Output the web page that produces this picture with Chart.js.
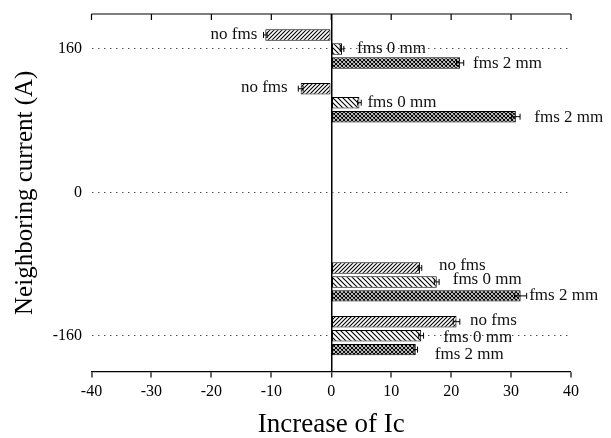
<!DOCTYPE html>
<html>
<head>
<meta charset="utf-8">
<script src="https://cdn.jsdelivr.net/npm/chart.js@4.4.0/dist/chart.umd.min.js"></script>
<style>
html,body{margin:0;padding:0;background:#fff}
canvas{display:block}
</style>
</head>
<body>
<canvas id="c" width="611" height="438"></canvas>
<script>
// ---- data ----
const groups = [160, 100, -100, -160];            // neighboring current (A)
const seriesNames = ['no fms', 'fms 0 mm', 'fms 2 mm'];
const noFms  = [-11.0, -5.1, 14.8, 20.9];         // increase of Ic
const fms0mm = [1.8, 4.7, 17.6, 15.0];
const fms2mm = [21.5, 30.8, 31.6, 14.1];
const errNoFms  = [0.3, 0.4, 0.3, 0.55];
const errFms0mm = [0.3, 0.3, 0.4, 0.4];
const errFms2mm = [0.6, 0.7, 1.0, 0.3];
const xTicks = [-40, -30, -20, -10, 0, 10, 20, 30, 40];
const yTicks = [160, 0, -160];

// ---- presentation ----
const FONT = '"Liberation Serif", "Times New Roman", serif';
// label placement beside each bar end: [gap px, vertical shift px], per series, per group
const labelOffsets = [
  [[8, 0], [13, -1.5], [19, -2], [13.5, -1]],
  [[15, 0], [8, 0], [16, -2], [22, 2]],
  [[13, 1], [18.5, 0.5], [8.5, 0], [19, 5]]
];

const canvas = document.getElementById('c');
const mainCtx = canvas.getContext('2d');

function hatch(kind, size) {
  const t = document.createElement('canvas');
  t.width = t.height = size;
  const g = t.getContext('2d');
  g.fillStyle = '#fff';
  g.fillRect(0, 0, size, size);
  g.strokeStyle = '#000';
  g.lineWidth = 1.1;
  g.beginPath();
  if (kind === '/' || kind === 'x') {
    g.moveTo(-1, size + 1); g.lineTo(size + 1, -1);
    g.moveTo(-1, 1); g.lineTo(1, -1);
    g.moveTo(size - 1, size + 1); g.lineTo(size + 1, size - 1);
  }
  if (kind === '\\' || kind === 'x') {
    g.moveTo(-1, -1); g.lineTo(size + 1, size + 1);
    g.moveTo(size - 1, -1); g.lineTo(size + 1, 1);
    g.moveTo(-1, size - 1); g.lineTo(1, size + 1);
  }
  g.stroke();
  return mainCtx.createPattern(t, 'repeat');
}

const patterns = [hatch('/', 4), hatch('\\', 5), hatch('x', 4)];
const values = [noFms, fms0mm, fms2mm];
const errors = [errNoFms, errFms0mm, errFms2mm];

const datasets = values.map((vals, i) => ({
  label: seriesNames[i],
  data: vals.map((v, k) => ({ x: v, y: groups[k] })),
  err: errors[i],
  backgroundColor: patterns[i],
  borderColor: '#000',
  borderWidth: 1,
  borderSkipped: false,
  categoryPercentage: 0.78,
  barPercentage: 0.82
}));

const topAxisPlugin = {
  id: 'topAxis',
  afterDraw(chart) {
    const { ctx, chartArea: a, scales: { x } } = chart;
    ctx.save();
    ctx.strokeStyle = '#000';
    ctx.lineWidth = 1.2;
    ctx.beginPath();
    ctx.moveTo(a.left, a.top);
    ctx.lineTo(a.right, a.top);
    x.ticks.forEach(t => {
      const px = x.getPixelForValue(t.value);
      ctx.moveTo(px, a.top);
      ctx.lineTo(px, a.top + 6);
    });
    ctx.stroke();
    ctx.restore();
  }
};

const errorBarPlugin = {
  id: 'errorBars',
  afterDatasetsDraw(chart) {
    const { ctx, scales: { x } } = chart;
    ctx.save();
    ctx.strokeStyle = '#000';
    ctx.lineWidth = 1;
    chart.data.datasets.forEach((ds, i) => {
      const meta = chart.getDatasetMeta(i);
      meta.data.forEach((bar, j) => {
        const v = ds.data[j].x, e = ds.err[j];
        const x1 = x.getPixelForValue(v - e), x2 = x.getPixelForValue(v + e);
        const y = bar.y;
        ctx.beginPath();
        ctx.moveTo(x1, y); ctx.lineTo(x2, y);
        ctx.moveTo(x1, y - 3); ctx.lineTo(x1, y + 3);
        ctx.moveTo(x2, y - 3); ctx.lineTo(x2, y + 3);
        ctx.stroke();
      });
    });
    ctx.restore();
  }
};

const barLabelPlugin = {
  id: 'barLabels',
  afterDatasetsDraw(chart) {
    const { ctx } = chart;
    ctx.save();
    ctx.font = '17px ' + FONT;
    ctx.fillStyle = '#111';
    ctx.textBaseline = 'middle';
    chart.data.datasets.forEach((ds, i) => {
      const meta = chart.getDatasetMeta(i);
      meta.data.forEach((bar, j) => {
        const v = ds.data[j].x;
        const [gap, dy] = labelOffsets[i][j];
        if (v < 0) {
          ctx.textAlign = 'right';
          ctx.fillText(ds.label, bar.x - gap, bar.y + dy);
        } else {
          ctx.textAlign = 'left';
          ctx.fillText(ds.label, bar.x + gap, bar.y + dy);
        }
      });
    });
    ctx.restore();
  }
};

new Chart(canvas, {
  type: 'bar',
  data: { datasets },
  options: {
    indexAxis: 'y',
    responsive: false,
    animation: false,
    devicePixelRatio: 1,
    layout: { padding: { left: 0, right: 40, top: 14, bottom: 0 } },
    plugins: { legend: { display: false }, tooltip: { enabled: false } },
    scales: {
      x: {
        type: 'linear',
        position: 'bottom',
        min: -40,
        max: 40,
        offset: false,
        afterBuildTicks: s => { s.ticks = xTicks.map(v => ({ value: v })); },
        afterFit: s => { s.height = 66.5; s.paddingLeft = 0; s.paddingRight = 0; },
        grid: {
          offset: false,
          drawOnChartArea: true,
          color: c => (c.tick && c.tick.value === 0) ? '#000' : 'rgba(0,0,0,0)',
          lineWidth: c => (c.tick && c.tick.value === 0) ? 1.5 : 0,
          drawTicks: true,
          tickLength: 6,
          tickColor: '#000',
          tickWidth: 1.2
        },
        border: { display: true, color: '#000', width: 1.2 },
        ticks: {
          color: '#000',
          padding: 5,
          autoSkip: false,
          maxRotation: 0,
          font: { family: FONT, size: 16 },
          callback: v => String(v)
        },
        title: {
          display: true,
          text: 'Increase of Ic',
          color: '#000',
          font: { family: FONT, size: 27, lineHeight: 1 },
          padding: { top: 0, bottom: 0 }
        }
      },
      y: {
        type: 'linear',
        position: 'left',
        min: -200,
        max: 199,
        offset: false,
        afterBuildTicks: s => { s.ticks = yTicks.map(v => ({ value: v })); },
        afterFit: s => { s.width = 91.5; s.paddingTop = 0; s.paddingBottom = 0; },
        grid: {
          offset: false,
          drawOnChartArea: true,
          drawTicks: false,
          color: '#555',
          lineWidth: 1
        },
        border: { display: false, dash: [1.5, 4.5] },
        ticks: {
          color: '#000',
          padding: 9.5,
          font: { family: FONT, size: 16 },
          callback: v => String(v)
        },
        title: {
          display: true,
          text: 'Neighboring current (A)',
          color: '#000',
          font: { family: FONT, size: 25, lineHeight: 1 },
          padding: { top: 13, bottom: 0 }
        }
      }
    }
  },
  plugins: [topAxisPlugin, errorBarPlugin, barLabelPlugin]
});
</script>
</body>
</html>
